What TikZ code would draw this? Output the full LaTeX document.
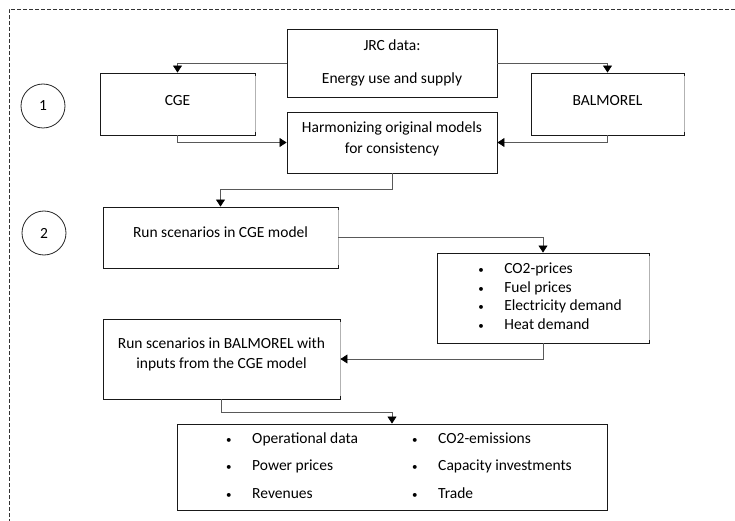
\documentclass[tikz,border=0pt]{standalone}
\usepackage{fontspec}
\setmainfont{Carlito}
\usetikzlibrary{arrows.meta,positioning}

\tikzset{
    box/.style={draw=black!90, line width=0.9pt, align=center, inner sep=4pt},
    lift/.style={text depth=#1},
    flow/.style={draw=black!65, line width=0.7pt, -{Triangle[length=7pt,width=9pt,fill=black,color=black]}},
    stepcircle/.style={circle, draw=black!85, line width=0.8pt, minimum size=44pt, inner sep=0pt}
}
\newcommand{\itm}[1]{\makebox[26pt][l]{\fontsize{11}{11}\selectfont\textbullet}#1}

\begin{document}
\begin{tikzpicture}[x=1pt, y=-1pt, font=\fontsize{15.5}{18.5}\selectfont]
    \useasboundingbox (0,0) rectangle (735,521);
    % frame round the whole procedure
    \draw[black!80, line width=0.8pt, dash pattern=on 4pt off 2pt] (735,9) -- (9,9) -- (9,521);

    % step 1
    \node[stepcircle] (step1) at (43,106) {1};
    \node[box, minimum width=210pt, minimum height=68pt] (jrc) at (392,63) {JRC data:\\[15pt]Energy use and supply};
    \node[box, lift=8pt, minimum width=155pt, minimum height=62pt] (cge) at (177.5,104) {CGE};
    \node[box, lift=8pt, minimum width=153pt, minimum height=62pt] (balmorel) at (607.5,104) {BALMOREL};
    \node[box, lift=10pt, minimum width=210pt, minimum height=61pt] (harm) at (392,142.5) {Harmonizing original models\\[2.5pt]for consistency};

    % step 2
    \node[stepcircle] (step2) at (44,233) {2};
    \node[box, lift=11pt, minimum width=235pt, minimum height=61pt] (runcge) at (220.5,237.5) {Run scenarios in CGE model};
    \node[box, minimum width=212pt, minimum height=90pt] (inputs) at (543,298) {%
        \begin{tabular}{@{\hspace{14pt}}l@{}}
            \itm{CO2-prices}\\
            \itm{Fuel prices}\\
            \itm{Electricity demand}\\
            \itm{Heat demand}
        \end{tabular}};
    \node[box, lift=11pt, minimum width=237pt, minimum height=80pt] (runbal) at (221.5,359) {Run scenarios in BALMOREL with\\[1.5pt]inputs from the CGE model};
    \node[box, minimum width=430pt, minimum height=86pt] (outputs) at (392,467) {%
        \begin{tabular}{@{\hspace{14pt}}p{186pt}@{}l@{}}
            \itm{Operational data} & \itm{CO2-emissions}\\[9pt]
            \itm{Power prices} & \itm{Capacity investments}\\[9pt]
            \itm{Revenues} & \itm{Trade}
        \end{tabular}};

    % lighter right-hand edges
    \foreach \n in {cge,balmorel,runcge,inputs,runbal}
        \draw[black!30, line width=0.9pt] ([yshift=-3pt]\n.north east) -- ([yshift=3pt]\n.south east);

    % connectors
    \draw[flow] (jrc.west) -| (cge.north);
    \draw[flow] (jrc.east) -| (balmorel.north);
    \draw[flow] (cge.south) |- (harm.west);
    \draw[flow] (balmorel.south) |- (harm.east);
    \draw[flow] (harm.south) -- ++(0,16) -| (runcge.north);
    \draw[flow] (runcge.east) -| (inputs.north);
    \draw[flow] (inputs.south) |- (runbal.east);
    \draw[flow] (runbal.south) -- ++(0,13) -| (outputs.north);
\end{tikzpicture}
\end{document}
